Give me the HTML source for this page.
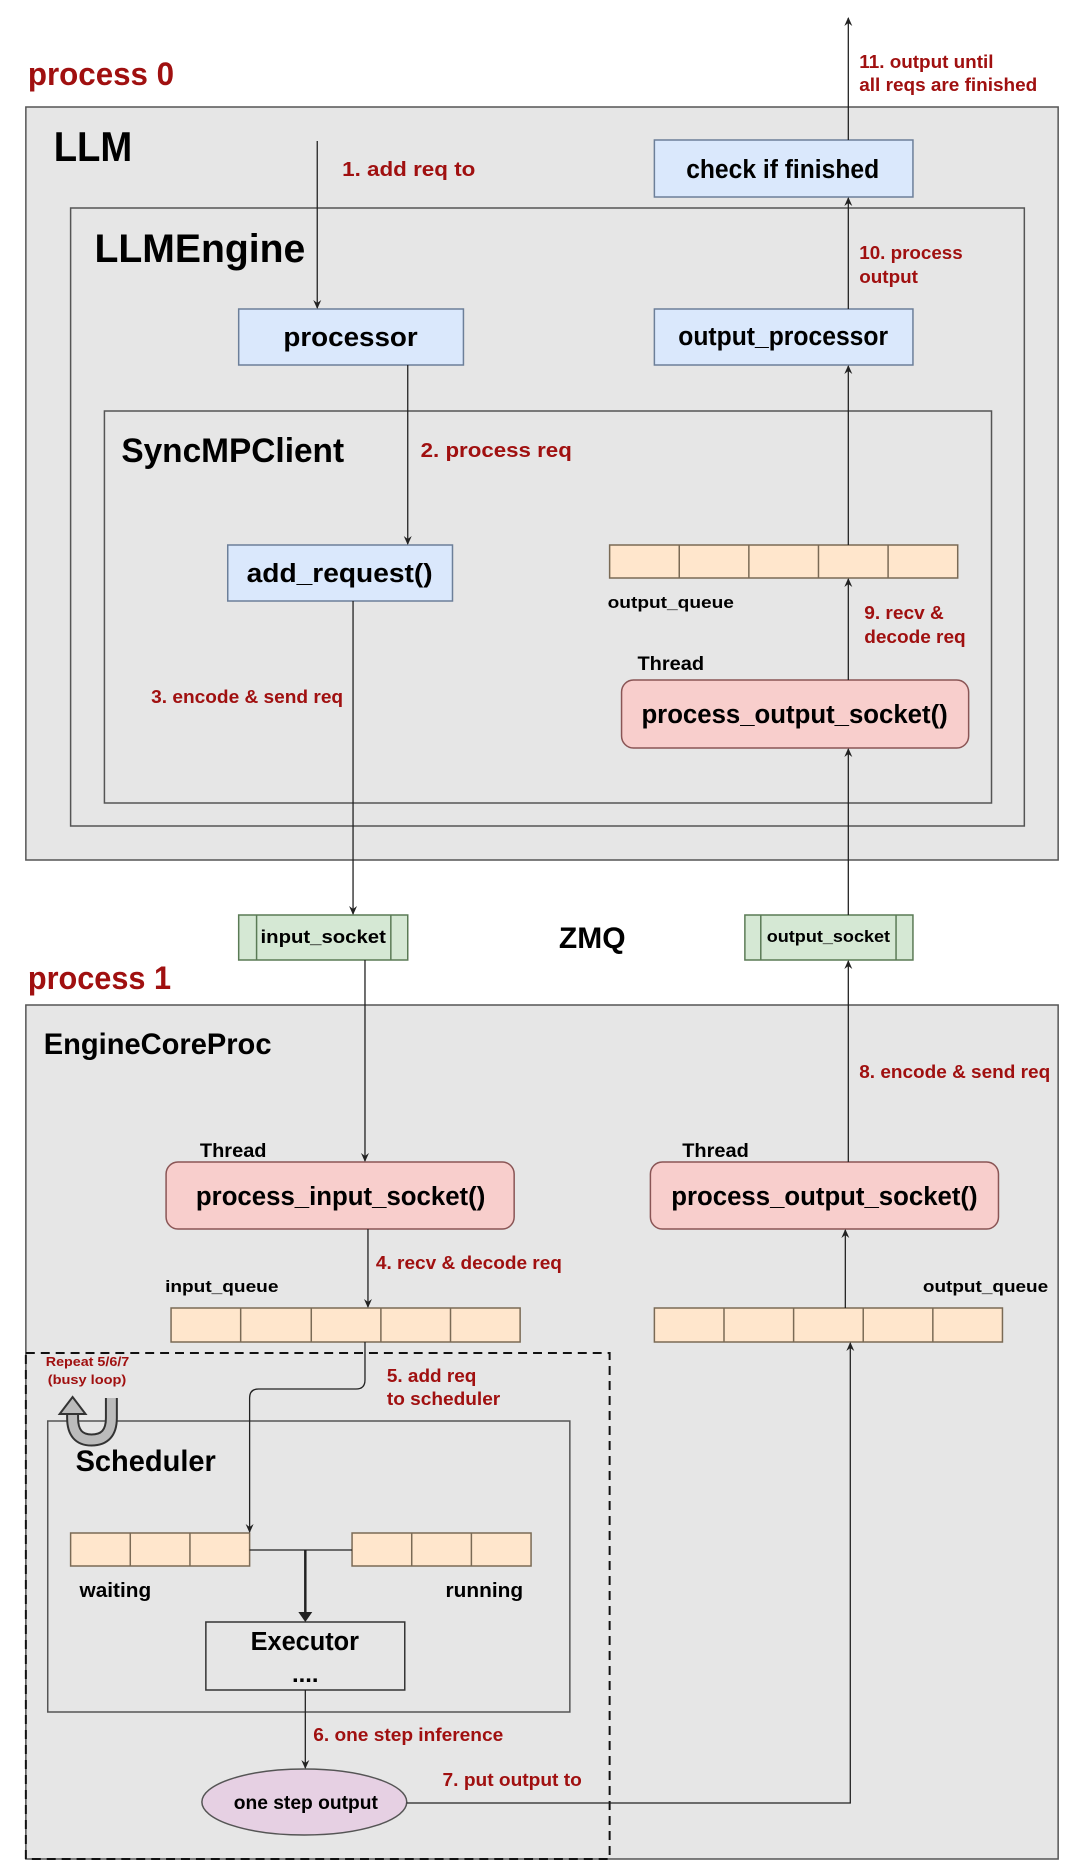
<!DOCTYPE html>
<html><head><meta charset="utf-8"><style>
html,body{margin:0;padding:0;background:#fff;}
svg{display:block;font-family:"Liberation Sans",Arial,sans-serif;font-weight:bold;}
</style></head><body>
<svg width="1080" height="1868" viewBox="0 0 1080 1868" xmlns="http://www.w3.org/2000/svg">
<defs>
<marker id="a" markerWidth="10" markerHeight="10" refX="8" refY="5" orient="auto" markerUnits="userSpaceOnUse">
<path d="M0,1 L9,5 L0,9 L3,5 Z" fill="#222"/></marker>
</defs>
<g transform="scale(0.9945,1)">
<g stroke="#555" stroke-width="1.5">
<rect x="26" y="107" width="1038" height="753" fill="#e6e6e6"/>
<rect x="71" y="208" width="959" height="618" fill="#e6e6e6"/>
<rect x="105" y="411" width="892" height="392" fill="#e6e6e6"/>
<rect x="26" y="1005" width="1038" height="854" fill="#e6e6e6"/>
<rect x="48" y="1421" width="525" height="291" fill="#e6e6e6"/>
</g>
<rect x="26" y="1353" width="587" height="506" fill="none" stroke="#111" stroke-width="2" stroke-dasharray="9,6"/>

<g fill="#dae8fc" stroke="#6c7f99" stroke-width="1.5">
<rect x="658" y="140" width="260" height="57"/>
<rect x="240" y="309" width="226" height="56"/>
<rect x="658" y="309" width="260" height="56"/>
<rect x="229" y="545" width="226" height="56"/>
</g>
<g fill="#f8cecc" stroke="#8a5555" stroke-width="1.5">
<rect x="625" y="680" width="349" height="68" rx="12"/>
<rect x="167" y="1162" width="350" height="67" rx="12"/>
<rect x="654" y="1162" width="350" height="67" rx="12"/>
</g>
<g fill="#ffe6cc" stroke="#7a6a55" stroke-width="1.5">
<rect x="613" y="545" width="350" height="33"/>
<rect x="172" y="1308" width="351" height="34"/>
<rect x="658" y="1308" width="350" height="34"/>
<rect x="71" y="1533" width="180" height="33"/>
<rect x="354" y="1533" width="180" height="33"/>
</g>
<g stroke="#7a6a55" stroke-width="1.5">
<line x1="683" y1="545" x2="683" y2="578"/><line x1="753" y1="545" x2="753" y2="578"/><line x1="823" y1="545" x2="823" y2="578"/><line x1="893" y1="545" x2="893" y2="578"/>
<line x1="242" y1="1308" x2="242" y2="1342"/><line x1="313" y1="1308" x2="313" y2="1342"/><line x1="383" y1="1308" x2="383" y2="1342"/><line x1="453" y1="1308" x2="453" y2="1342"/>
<line x1="728" y1="1308" x2="728" y2="1342"/><line x1="798" y1="1308" x2="798" y2="1342"/><line x1="868" y1="1308" x2="868" y2="1342"/><line x1="938" y1="1308" x2="938" y2="1342"/>
<line x1="131" y1="1533" x2="131" y2="1566"/><line x1="191" y1="1533" x2="191" y2="1566"/>
<line x1="414" y1="1533" x2="414" y2="1566"/><line x1="474" y1="1533" x2="474" y2="1566"/>
</g>
<g fill="#d5e8d4" stroke="#5a7a55" stroke-width="1.5">
<rect x="240" y="915" width="170" height="45"/>
<rect x="749" y="915" width="169" height="45"/>
<line x1="258" y1="915" x2="258" y2="960"/><line x1="393" y1="915" x2="393" y2="960"/>
<line x1="765" y1="915" x2="765" y2="960"/><line x1="901" y1="915" x2="901" y2="960"/>
</g>
<rect x="207" y="1622" width="200" height="68" fill="#e6e6e6" stroke="#333" stroke-width="1.5"/>
<ellipse cx="306" cy="1802" rx="103" ry="33" fill="#e6d0e3" stroke="#555" stroke-width="1.5"/>

<g stroke="#222" stroke-width="1.3" fill="none" marker-end="url(#a)">
<line x1="853" y1="140" x2="853" y2="18"/>
<line x1="319" y1="141" x2="319" y2="308"/>
<line x1="853" y1="309" x2="853" y2="198"/>
<line x1="410" y1="365" x2="410" y2="544"/>
<line x1="853" y1="545" x2="853" y2="366"/>
<line x1="853" y1="680" x2="853" y2="579"/>
<line x1="853" y1="915" x2="853" y2="749"/>
<line x1="355" y1="601" x2="355" y2="914"/>
<line x1="367" y1="960" x2="367" y2="1161"/>
<line x1="853" y1="1162" x2="853" y2="961"/>
<line x1="370" y1="1229" x2="370" y2="1307"/>
<line x1="850" y1="1308" x2="850" y2="1230"/>
<path d="M367,1342 L367,1380 Q367,1389 358,1389 L260,1389 Q251,1389 251,1398 L251,1532"/>
<line x1="307" y1="1690" x2="307" y2="1768"/>
<path d="M409,1803 L855,1803 L855,1343"/>
</g>
<line x1="251" y1="1550" x2="354" y2="1550" stroke="#222" stroke-width="1.3"/>
<line x1="307" y1="1550" x2="307" y2="1614" stroke="#222" stroke-width="2.5"/>
<path d="M300,1612 L307,1622 L314,1612 Z" fill="#222"/>

<path d="M73,1410 L73,1418 Q73,1440 92,1440 Q112,1440 112,1418 L112,1398" fill="none" stroke="#333" stroke-width="13"/>
<path d="M73,1410 L73,1418 Q73,1440 92,1440 Q112,1440 112,1418 L112,1398" fill="none" stroke="#bbb" stroke-width="9"/>
<path d="M60,1414 L73,1397 L86,1414 Z" fill="#bbb" stroke="#333" stroke-width="2"/>

<g fill="#a01010">
<text x="28" y="85" font-size="32" textLength="147" lengthAdjust="spacingAndGlyphs">process 0</text>
<text x="28" y="989" font-size="32" textLength="144" lengthAdjust="spacingAndGlyphs">process 1</text>
<text x="864" y="68" font-size="18" textLength="135" lengthAdjust="spacingAndGlyphs">11. output until</text>
<text x="864" y="91" font-size="18" textLength="179" lengthAdjust="spacingAndGlyphs">all reqs are finished</text>
<text x="344" y="176" font-size="20" textLength="134" lengthAdjust="spacingAndGlyphs">1. add req to</text>
<text x="864" y="259" font-size="18" textLength="104" lengthAdjust="spacingAndGlyphs">10. process</text>
<text x="864" y="283" font-size="18" textLength="59" lengthAdjust="spacingAndGlyphs">output</text>
<text x="423" y="457" font-size="20" textLength="152" lengthAdjust="spacingAndGlyphs">2. process req</text>
<text x="869" y="619" font-size="18" textLength="80" lengthAdjust="spacingAndGlyphs">9. recv &amp;</text>
<text x="869" y="643" font-size="18" textLength="102" lengthAdjust="spacingAndGlyphs">decode req</text>
<text x="152" y="703" font-size="18" textLength="193" lengthAdjust="spacingAndGlyphs">3. encode &amp; send req</text>
<text x="864" y="1078" font-size="18" textLength="192" lengthAdjust="spacingAndGlyphs">8. encode &amp; send req</text>
<text x="378" y="1269" font-size="18" textLength="187" lengthAdjust="spacingAndGlyphs">4. recv &amp; decode req</text>
<text x="46" y="1366" font-size="13" textLength="84" lengthAdjust="spacingAndGlyphs">Repeat 5/6/7</text>
<text x="48" y="1384" font-size="13" textLength="79" lengthAdjust="spacingAndGlyphs">(busy loop)</text>
<text x="389" y="1382" font-size="18" textLength="90" lengthAdjust="spacingAndGlyphs">5. add req</text>
<text x="389" y="1405" font-size="18" textLength="114" lengthAdjust="spacingAndGlyphs">to scheduler</text>
<text x="315" y="1741" font-size="18" textLength="191" lengthAdjust="spacingAndGlyphs">6. one step inference</text>
<text x="445" y="1786" font-size="18" textLength="140" lengthAdjust="spacingAndGlyphs">7. put output to</text>
</g>
<g fill="#000">
<text x="54" y="161" font-size="42" textLength="79" lengthAdjust="spacingAndGlyphs">LLM</text>
<text x="95" y="262" font-size="40" textLength="212" lengthAdjust="spacingAndGlyphs">LLMEngine</text>
<text x="122" y="462" font-size="34" textLength="224" lengthAdjust="spacingAndGlyphs">SyncMPClient</text>
<text x="690" y="178" font-size="26" textLength="194" lengthAdjust="spacingAndGlyphs">check if finished</text>
<text x="285" y="346" font-size="26" textLength="135" lengthAdjust="spacingAndGlyphs">processor</text>
<text x="682" y="345" font-size="26" textLength="211" lengthAdjust="spacingAndGlyphs">output_processor</text>
<text x="248" y="582" font-size="26" textLength="187" lengthAdjust="spacingAndGlyphs">add_request()</text>
<text x="611" y="608" font-size="17" textLength="127" lengthAdjust="spacingAndGlyphs">output_queue</text>
<text x="641" y="670" font-size="19" textLength="67" lengthAdjust="spacingAndGlyphs">Thread</text>
<text x="645" y="723" font-size="26" textLength="308" lengthAdjust="spacingAndGlyphs">process_output_socket()</text>
<text x="262" y="943" font-size="18" textLength="126" lengthAdjust="spacingAndGlyphs">input_socket</text>
<text x="562" y="948" font-size="30" textLength="67" lengthAdjust="spacingAndGlyphs">ZMQ</text>
<text x="771" y="942" font-size="17" textLength="124" lengthAdjust="spacingAndGlyphs">output_socket</text>
<text x="44" y="1054" font-size="30" textLength="229" lengthAdjust="spacingAndGlyphs">EngineCoreProc</text>
<text x="201" y="1157" font-size="19" textLength="67" lengthAdjust="spacingAndGlyphs">Thread</text>
<text x="686" y="1157" font-size="19" textLength="67" lengthAdjust="spacingAndGlyphs">Thread</text>
<text x="197" y="1205" font-size="26" textLength="291" lengthAdjust="spacingAndGlyphs">process_input_socket()</text>
<text x="675" y="1205" font-size="26" textLength="308" lengthAdjust="spacingAndGlyphs">process_output_socket()</text>
<text x="166" y="1292" font-size="17" textLength="114" lengthAdjust="spacingAndGlyphs">input_queue</text>
<text x="928" y="1292" font-size="17" textLength="126" lengthAdjust="spacingAndGlyphs">output_queue</text>
<text x="76" y="1471" font-size="30" textLength="141" lengthAdjust="spacingAndGlyphs">Scheduler</text>
<text x="80" y="1597" font-size="20" textLength="72" lengthAdjust="spacingAndGlyphs">waiting</text>
<text x="448" y="1597" font-size="20" textLength="78" lengthAdjust="spacingAndGlyphs">running</text>
<text x="252" y="1650" font-size="26" textLength="109" lengthAdjust="spacingAndGlyphs">Executor</text>
<text x="307" y="1682" font-size="24" text-anchor="middle">....</text>
<text x="235" y="1809" font-size="19" textLength="145" lengthAdjust="spacingAndGlyphs">one step output</text>
</g>
</g>
</svg>
</body></html>
